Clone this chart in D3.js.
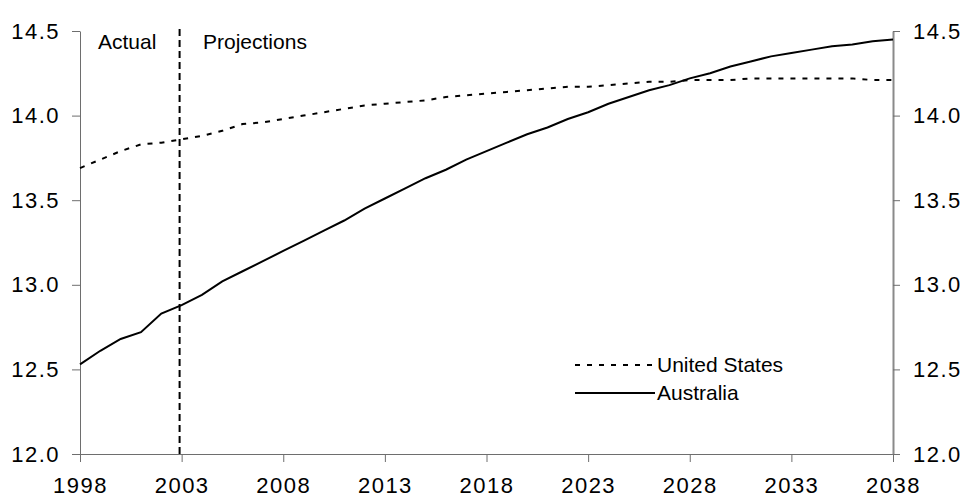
<!DOCTYPE html>
<html>
<head>
<meta charset="utf-8">
<script src="https://cdn.jsdelivr.net/npm/d3@7"></script>
<style>
  body { margin: 0; background: #fff; }
  svg text { font-family: "Liberation Sans", Arial, sans-serif; fill: #000; }
</style>
</head>
<body>
<div id="chart"></div>
<script>
// years shown on the chart (one value per year)
const years = d3.range(1998, 2039);

// values
const australia = [12.53, 12.61, 12.68, 12.72, 12.83, 12.88, 12.94, 13.02, 13.08, 13.14,
  13.20, 13.26, 13.32, 13.38, 13.45, 13.51, 13.57, 13.63, 13.68, 13.74,
  13.79, 13.84, 13.89, 13.93, 13.98, 14.02, 14.07, 14.11, 14.15, 14.18,
  14.22, 14.25, 14.29, 14.32, 14.35, 14.37, 14.39, 14.41, 14.42, 14.44, 14.45];

const unitedStates = [13.69, 13.74, 13.79, 13.83, 13.84, 13.86, 13.88, 13.91, 13.95, 13.96,
  13.98, 14.00, 14.02, 14.04, 14.06, 14.07, 14.08, 14.09, 14.11, 14.12,
  14.13, 14.14, 14.15, 14.16, 14.17, 14.17, 14.18, 14.19, 14.20, 14.20,
  14.21, 14.21, 14.21, 14.22, 14.22, 14.22, 14.22, 14.22, 14.22, 14.21, 14.21];

const xTicks = [1998, 2003, 2008, 2013, 2018, 2023, 2028, 2033, 2038];
const yTicks = [12.0, 12.5, 13.0, 13.5, 14.0, 14.5];
const projectionStart = 2002.9; // the dashed divider sits just left of the 2003 tick

const legendItems = [
  { name: "United States", dash: "5,7" },
  { name: "Australia", dash: null }
];

// 1. svg
const WIDTH = 962, HEIGHT = 500;
const margin = { top: 31, right: 69, bottom: 46, left: 80 };

const svg = d3.select("#chart")
  .append("svg")
  .attr("width", WIDTH)
  .attr("height", HEIGHT);

const x = d3.scaleLinear()
  .domain([1998, 2038])
  .range([margin.left, WIDTH - margin.right]);

const y = d3.scaleLinear()
  .domain([12, 14.5])
  .range([HEIGHT - margin.bottom, margin.top]);

// 2. axes
const fmt = d3.format(".1f");

svg.append("g")
  .attr("class", "axis")
  .attr("transform", `translate(0, ${y(12)})`)
  .call(d3.axisBottom(x).tickValues(xTicks).tickFormat(d3.format("d")).tickSize(8).tickPadding(15).tickSizeOuter(0));

svg.append("g")
  .attr("class", "axis")
  .attr("transform", `translate(${x(1998)}, 0)`)
  .call(d3.axisLeft(y).tickValues(yTicks).tickFormat(fmt).tickSize(8).tickPadding(12).tickSizeOuter(0));

svg.append("g")
  .attr("class", "axis right")
  .attr("transform", `translate(${x(2038)}, 0)`)
  .call(d3.axisRight(y).tickValues(yTicks).tickFormat(fmt).tickSize(7).tickPadding(13).tickSizeOuter(0));

// the tick labels in the picture are drawn a bit wider than plain Arial
svg.selectAll(".axis text")
  .attr("font-size", "22px")
  .attr("letter-spacing", "1.5px");
svg.selectAll(".axis path, .axis line").attr("stroke", "#6e6e6e");
svg.selectAll(".axis.right path").attr("stroke", "#8a8a8a").attr("stroke-width", 2);

// 3. actual / projections divider
svg.append("line")
  .attr("x1", x(projectionStart)).attr("x2", x(projectionStart))
  .attr("y1", margin.top - 2).attr("y2", y(12))
  .attr("stroke", "#000")
  .attr("stroke-width", 2)
  .attr("stroke-dasharray", "7,4");

svg.append("text")
  .attr("x", 98).attr("y", 49)
  .attr("font-size", "21px")
  .text("Actual");

svg.append("text")
  .attr("x", 203).attr("y", 49)
  .attr("font-size", "21px")
  .text("Projections");

// 4. lines
const line = d3.line()
  .x((d, i) => x(years[i]))
  .y(d => y(d));

svg.append("path")
  .datum(unitedStates)
  .attr("fill", "none")
  .attr("stroke", "#000")
  .attr("stroke-width", 2)
  .attr("stroke-dasharray", "5,7")
  .attr("d", line);

svg.append("path")
  .datum(australia)
  .attr("fill", "none")
  .attr("stroke", "#000")
  .attr("stroke-width", 2)
  .attr("d", line);

// 5. legend
const legend = svg.append("g")
  .attr("transform", "translate(575, 365)");

const rows = legend.selectAll("g")
  .data(legendItems)
  .enter()
  .append("g")
  .attr("transform", (d, i) => `translate(0, ${i * 28})`);

rows.append("line")
  .attr("x1", 0).attr("x2", 80)
  .attr("stroke", "#000")
  .attr("stroke-width", 2)
  .attr("stroke-dasharray", d => d.dash);

rows.append("text")
  .attr("x", 82)
  .attr("y", 0)
  .attr("dy", "0.35em")
  .attr("font-size", "21px")
  .text(d => d.name);
</script>
</body>
</html>
